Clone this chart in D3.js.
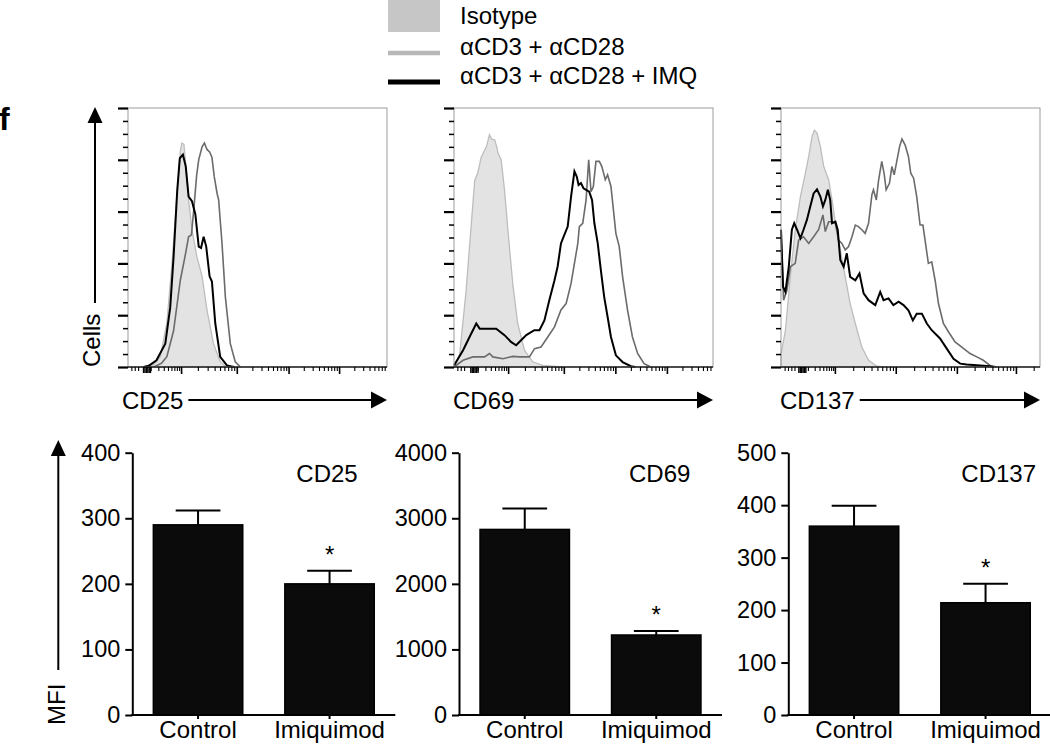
<!DOCTYPE html>
<html>
<head>
<meta charset="utf-8">
<script src="https://cdn.jsdelivr.net/npm/d3@7"></script>
<style>
  body { margin: 0; background: #fff; }
  text { font-family: "Liberation Sans", Arial, sans-serif; fill: #000; }
</style>
</head>
<body>
<div id="chart"></div>
<script>
// DATA
// ------------------------------------------------------------------

var legendLabels = ["Isotype", "αCD3 + αCD28", "αCD3 + αCD28 + IMQ"];
var histMarkers = ["CD25", "CD69", "CD137"];

// histogram traces: [position along the fluorescence axis (% of width), cells (% of max)]
var cd25Iso = [[6,0],[10,1],[12.5,4],[15,17],[17,40],[19,68],[20.3,84],[20.8,86.5],[21.6,86],[22.3,78],[23.4,64.5],[24.7,53],[26.6,42.6],[28.6,35],[30.5,22],[33,9],[35.6,2],[38,0]];
var cd25Stim = [[10,0],[13,1.5],[15,4],[17.6,14],[20.2,33.5],[22,42.6],[23.4,50.3],[24.5,51],[25.5,62],[26.5,74],[27.3,80],[28.6,85],[29.5,86.5],[30.5,84],[31.5,83],[32.4,81],[33.3,73.5],[34.4,67],[35,64.5],[36.3,47.7],[37.6,27],[39.5,9],[41.4,2],[43.4,0]];
var cd25Imq = [[6,0],[8,0.5],[11,2.6],[14.4,9],[16.3,23],[17.6,42.6],[19,68],[20,80.6],[21.2,82],[22.3,77.4],[23.4,65.8],[24.7,64],[26,59],[27.3,46.5],[28.2,46],[29.2,50.3],[30.2,46.5],[31.5,35],[32.4,33],[33.7,16.8],[35.6,3.9],[38.2,0.6],[41,0]];

var cd69Iso = [[0,0],[2.2,5],[4.7,29.7],[6.7,55.5],[8,72],[9.2,75],[10.5,81],[12.5,85],[13.7,89.7],[14.5,88],[15.7,87.7],[16.5,85],[17,82.6],[18.2,80],[19.5,68.4],[20.8,53],[22.7,32],[24.6,16.8],[27.2,6.5],[30.4,2],[34.3,0.6],[42,0]];
var cd69Stim = [[0,0],[3.5,2.6],[7.3,3.9],[11.8,3.9],[13.7,5.2],[15,3.9],[18.9,3.2],[22.7,4.1],[25.3,3.9],[29.1,3.9],[31.1,7.1],[33.6,7.7],[36.2,11.6],[38.8,15.5],[41.3,22],[43.3,24.5],[45.2,32.3],[46.5,40],[47.8,47.7],[48.4,54.2],[49.7,55.5],[51,64.5],[52,80],[52.9,67.7],[53.8,69.7],[54.8,79.4],[56.1,79.4],[57.1,77.4],[58.4,72.3],[59.3,74.2],[60.6,69.7],[62.5,51.6],[63.8,46.5],[65.1,34.8],[67,22],[68.9,11.6],[70.9,5.2],[73.4,1.3],[76,0]];
var cd69Imq = [[0,0.6],[3.5,6.5],[6,11.6],[8.6,16.8],[9.9,14.8],[12.5,14.8],[16.3,14.8],[19.5,12.3],[22,9.7],[24,8.4],[25.9,10.3],[27.9,12.3],[31,14.2],[33,14.2],[34.9,18],[36.8,25.8],[38.8,33.5],[40,38.7],[41.3,47.7],[42.6,51],[43.9,54.2],[45.2,65.8],[46.5,75.5],[47.4,73.5],[48.1,70.3],[49,71],[50,69],[51,68.4],[52.2,67.7],[53.3,64.5],[54.2,55.5],[55.5,47.7],[56.7,37.4],[58,27],[59.3,19.4],[60.6,11.6],[62.5,4.5],[65.1,1.9],[68.3,0.3],[70,0]];

var cd137Iso = [[0,5],[1.7,14],[3.6,34.8],[5.5,53],[7.5,65.8],[9.4,74.8],[10.7,81.3],[12,89],[12.9,91.4],[13.9,90.3],[15.2,85.2],[16.5,77.4],[18.4,72.3],[19.7,64.5],[21,55.5],[22.9,45.2],[24.8,34.8],[26.7,24.5],[28.7,16.8],[31.2,7.7],[33.8,2.6],[37,0.3],[40,0]];
var cd137Stim = [[0,53],[1,25.8],[2.3,29.7],[3.6,38.7],[5.5,40],[6.8,49],[8.7,50.3],[10.7,47.7],[12.6,50.3],[14.5,53],[16.2,58.7],[17.1,52.3],[18.4,56.1],[19.7,56.1],[21,55.5],[22.2,49],[23.5,47.7],[24.8,45.2],[26.1,46.5],[27.4,50.3],[28.7,54.8],[29.9,54.2],[31.2,53],[32.5,51.6],[33.8,55.5],[35.1,66.5],[35.7,68.4],[36.8,64.5],[37.7,72.3],[38.9,79.4],[39.8,74.8],[40.6,68.4],[41.9,71],[42.8,77.4],[43.7,74.2],[44.7,79.4],[45.8,85.2],[46.7,88],[47.9,85.8],[49.2,81.3],[50.1,74.8],[51.2,72.9],[52.4,65.8],[53.7,54.8],[54.8,54.8],[55.8,47.7],[56.9,40],[58.2,40.6],[59.5,33.5],[60.8,24.5],[62.7,16.8],[64.7,13.5],[67.2,9.7],[69.8,7.7],[73,5.2],[75.6,3.9],[78.1,2.6],[80.7,0.6],[83.3,0]];
var cd137Imq = [[0,53],[0.8,31],[1.7,29],[3,38.7],[4.2,53],[5.1,55.5],[6.2,53],[7.5,49.7],[8.7,53],[10,56.8],[11.3,62],[12.6,67],[13.9,68.6],[15.2,65.8],[16.2,62],[17.1,64.5],[18.1,68.4],[19,64.5],[19.7,55.5],[21,56.1],[21.9,53],[22.9,41.3],[24.2,38.7],[25.4,43.9],[26.7,34.8],[28.7,33.5],[30.3,36.1],[31.9,28.4],[33.8,25.8],[36.4,23.9],[38.3,29],[39.6,25.8],[41.5,26.5],[43.4,23.9],[45.4,25.2],[47.3,23.9],[49.2,21.9],[50.9,18],[52.4,20.6],[54.4,20.6],[56.3,16.8],[58.2,14.2],[61.4,11],[64,7.1],[66.6,3.2],[69.2,1.3],[71.7,1],[76.9,0.6],[80.7,0.3],[82,0]];

var histIso = [cd25Iso, cd69Iso, cd137Iso],
    histStim = [cd25Stim, cd69Stim, cd137Stim],
    histImq = [cd25Imq, cd69Imq, cd137Imq];

// axis ticks of the flow plots
var histMajorTicks = [[20.5, 42, 62, 81.5], [20.9, 42.4, 62.3, 82.2], [20.8, 44.3, 67.9, 90.7]];
var histLowDecade = [16.8, 16.8, 14.9];
var histZeroTicks = [[5.8, 6.35, 6.9, 7.45, 8.0, 8.5], [6.3, 6.85, 7.4, 7.95, 8.5, 9.1], [6.7, 7.25, 7.8, 8.35, 8.9, 9.4]];
var histNegTicks = [[1.3, 2.6, 3.9], [1.3, 2.6, 3.9], [1.4, 2.7, 4.0, 5.2]];
var histCountTicks = [0, 20, 40, 60, 80, 100];

// MFI bar charts
var barGroups = ["Control", "Imiquimod"];
var cd25Mfi = [290, 200], cd25Sem = [22, 20];
var cd69Mfi = [2830, 1220], cd69Sem = [320, 60];
var cd137Mfi = [360, 214], cd137Sem = [39, 36];
var mfiValues = [cd25Mfi, cd69Mfi, cd137Mfi],
    mfiSem = [cd25Sem, cd69Sem, cd137Sem];
var mfiTicks = [[0, 100, 200, 300, 400], [0, 1000, 2000, 3000, 4000], [0, 100, 200, 300, 400, 500]];
var significant = [false, true];

// CANVAS
// ------------------------------------------------------------------

var width = 1050,
    height = 744;

var svg = d3.select("#chart")
    .append("svg")
    .attr("width", width)
    .attr("height", height);

function arrowHead(tipX, tipY, dir, len, half) {
  // dir: "up" or "right"
  if (dir == "up")
    return "M" + tipX + "," + tipY + "L" + (tipX - half) + "," + (tipY + len) +
           "L" + (tipX + half) + "," + (tipY + len) + "Z";
  return "M" + tipX + "," + tipY + "L" + (tipX - len) + "," + (tipY - half) +
         "L" + (tipX - len) + "," + (tipY + half) + "Z";
}

// LEGEND
// ------------------------------------------------------------------

var legend = svg.append("g");
legend.append("rect")
    .attr("x", 388).attr("y", 0)
    .attr("width", 52).attr("height", 32)
    .attr("fill", "#c6c6c6");
legend.append("line")
    .attr("x1", 388).attr("x2", 440).attr("y1", 53).attr("y2", 53)
    .attr("stroke", "#b8b8b8").attr("stroke-width", 4.5);
legend.append("line")
    .attr("x1", 388).attr("x2", 440).attr("y1", 82).attr("y2", 82)
    .attr("stroke", "#000").attr("stroke-width", 5);
legend.selectAll("text.leg")
    .data(legendLabels)
    .enter().append("text")
    .attr("class", "leg")
    .attr("x", 460)
    .attr("y", function(d, i) { return [23.5, 54.5, 83.5][i]; })
    .style("font-size", "24px")
    .text(function(d) { return d; });

svg.append("text")
    .attr("x", -1).attr("y", 130)
    .style("font-size", "32px")
    .style("font-weight", "bold")
    .text("f");

// HISTOGRAMS
// ------------------------------------------------------------------

var histLeft = [128, 454, 781],
    histTop = 108,
    histSize = 259;

function minorTicks(i) {
  var majors = histMajorTicks[i],
      edges = [majors[0] - histLowDecade[i]].concat(majors),
      last = majors[majors.length - 1];
  edges.push(last + (last - majors[majors.length - 2]));
  var out = [];
  for (var e = 0; e < edges.length - 1; e++) {
    for (var k = 2; k <= 9; k++) {
      var v = edges[e] + (edges[e + 1] - edges[e]) * Math.log10(k);
      if (v < 100) out.push(v);
    }
  }
  return out.concat(histNegTicks[i]);
}

function tickAxis(g, axis, strokeWidth) {
  g.call(axis);
  g.select(".domain").remove();
  g.selectAll(".tick line").attr("stroke", "#000").attr("stroke-width", strokeWidth);
}

function drawHist(i) {
  var left = histLeft[i];
  var x = d3.scaleLinear().domain([0, 100]).range([left, left + histSize]),
      y = d3.scaleLinear().domain([0, 100]).range([histTop + histSize, histTop]);
  var g = svg.append("g");

  var area = d3.area()
      .x(function(d) { return x(d[0]); })
      .y0(y(0))
      .y1(function(d) { return y(d[1]); });
  var line = d3.line()
      .x(function(d) { return x(d[0]); })
      .y(function(d) { return y(d[1]); });

  g.append("path").datum(histIso[i])
      .attr("d", area)
      .attr("fill", "#e3e3e3")
      .attr("stroke", "#bdbdbd")
      .attr("stroke-width", 1.3);
  g.append("path").datum(histStim[i])
      .attr("d", line)
      .attr("fill", "none")
      .attr("stroke", "#6b6b6b")
      .attr("stroke-width", 1.6);
  g.append("path").datum(histImq[i])
      .attr("d", line)
      .attr("fill", "none")
      .attr("stroke", "#000")
      .attr("stroke-width", 2);

  // frame
  g.append("rect")
      .attr("x", left).attr("y", histTop)
      .attr("width", histSize).attr("height", histSize)
      .attr("fill", "none")
      .attr("stroke", "#9c9c9c")
      .attr("stroke-width", 1);
  g.append("line")
      .attr("x1", left).attr("x2", left + histSize)
      .attr("y1", y(0)).attr("y2", y(0))
      .attr("stroke", "#222").attr("stroke-width", 1.5);

  // count ticks
  tickAxis(g.append("g").attr("transform", "translate(" + left + ",0)"),
      d3.axisLeft(y).tickValues(histCountTicks).tickSize(10).tickFormat(""), 2.2);
  tickAxis(g.append("g").attr("transform", "translate(" + left + ",0)"),
      d3.axisLeft(y).tickValues(d3.range(5, 100, 5).filter(function(v) { return v % 20; }))
        .tickSize(5).tickFormat(""), 1.5);

  // fluorescence ticks
  var bottom = "translate(0," + y(0) + ")";
  tickAxis(g.append("g").attr("transform", bottom),
      d3.axisBottom(x).tickValues(histMajorTicks[i]).tickSize(7).tickFormat(""), 1.6);
  tickAxis(g.append("g").attr("transform", bottom),
      d3.axisBottom(x).tickValues(minorTicks(i)).tickSize(4).tickFormat(""), 1.1);
  tickAxis(g.append("g").attr("transform", bottom),
      d3.axisBottom(x).tickValues(histZeroTicks[i]).tickSize(6).tickFormat(""), 1.4);

  // marker label with arrow
  var label = g.append("text")
      .attr("x", left - 6 + (i == 1 ? 5 : 0) + (i == 2 ? 5 : 0))
      .attr("y", 408.5)
      .style("font-size", "24px")
      .text(histMarkers[i]);
  var labelEnd = +label.attr("x") + label.node().getComputedTextLength();
  g.append("line")
      .attr("x1", labelEnd + 5).attr("x2", left + histSize - 10)
      .attr("y1", 400).attr("y2", 400)
      .attr("stroke", "#000").attr("stroke-width", 2);
  g.append("path")
      .attr("d", arrowHead(left + histSize, 400, "right", 16, 8.5))
      .attr("fill", "#000");
}

histMarkers.forEach(function(d, i) { drawHist(i); });

// Cells axis title
svg.append("line")
    .attr("x1", 95).attr("x2", 95).attr("y1", 303).attr("y2", 118)
    .attr("stroke", "#000").attr("stroke-width", 2);
svg.append("path").attr("d", arrowHead(95, 107, "up", 16, 7.5)).attr("fill", "#000");
svg.append("text")
    .attr("transform", "translate(100,367) rotate(-90)")
    .style("font-size", "24px")
    .text("Cells");

// BAR CHARTS
// ------------------------------------------------------------------

var barLeft = [132.3, 459, 788.3],
    barTop = 452.7,
    barBottom = 715,
    barWidth = 263,
    titleOffset = [164, 170, 173];

function drawBars(i) {
  var x0 = barLeft[i];
  var x = d3.scaleBand()
      .domain(barGroups)
      .range([x0, x0 + barWidth])
      .paddingInner(0.32)
      .paddingOuter(0.16);
  var y = d3.scaleLinear()
      .domain([0, mfiTicks[i][mfiTicks[i].length - 1]])
      .range([barBottom, barTop]);
  var g = svg.append("g");
  var vals = mfiValues[i], sem = mfiSem[i];

  // error bars (upper only)
  g.selectAll("line.err")
      .data(barGroups)
      .enter().append("line")
      .attr("x1", function(d) { return x(d) + x.bandwidth() / 2; })
      .attr("x2", function(d) { return x(d) + x.bandwidth() / 2; })
      .attr("y1", function(d, j) { return y(vals[j]); })
      .attr("y2", function(d, j) { return y(vals[j] + sem[j]); })
      .attr("stroke", "#000").attr("stroke-width", 2);
  g.selectAll("line.cap")
      .data(barGroups)
      .enter().append("line")
      .attr("x1", function(d) { return x(d) + x.bandwidth() / 4; })
      .attr("x2", function(d) { return x(d) + x.bandwidth() * 3 / 4; })
      .attr("y1", function(d, j) { return y(vals[j] + sem[j]); })
      .attr("y2", function(d, j) { return y(vals[j] + sem[j]); })
      .attr("stroke", "#000").attr("stroke-width", 2);

  g.selectAll("rect.bar")
      .data(barGroups)
      .enter().append("rect")
      .attr("x", function(d) { return x(d); })
      .attr("y", function(d, j) { return y(vals[j]); })
      .attr("width", x.bandwidth())
      .attr("height", function(d, j) { return barBottom - y(vals[j]); })
      .attr("fill", "#0b0b0b")
      .attr("stroke", "#000")
      .attr("stroke-width", 1.5);

  g.selectAll("text.star")
      .data(barGroups.filter(function(d, j) { return significant[j]; }))
      .enter().append("text")
      .attr("x", function(d) { return x(d) + x.bandwidth() / 2; })
      .attr("y", function(d) {
        var j = barGroups.indexOf(d);
        return y(vals[j] + sem[j]) - 8;
      })
      .attr("text-anchor", "middle")
      .style("font-size", "24px")
      .text("*");

  // axes
  var ya = g.append("g")
      .attr("transform", "translate(" + x0 + ",0)")
      .call(d3.axisLeft(y).tickValues(mfiTicks[i]).tickFormat(d3.format("d"))
        .tickSize(7).tickPadding(5).tickSizeOuter(0));
  var xa = g.append("g")
      .attr("transform", "translate(0," + barBottom + ")")
      .call(d3.axisBottom(x).tickSize(4).tickSizeOuter(0));
  [ya, xa].forEach(function(a) {
    a.select(".domain").attr("stroke", "#000").attr("stroke-width", 2);
    a.selectAll(".tick line").attr("stroke", "#000").attr("stroke-width", 2);
    a.selectAll(".tick text")
        .style("font-family", "'Liberation Sans', Arial, sans-serif")
        .attr("fill", "#000");
  });
  ya.selectAll(".tick text").style("font-size", "23.5px");
  xa.selectAll(".tick text")
      .style("font-size", "24px")
      .attr("y", 23).attr("dy", 0);
  // extend the baseline to the axis corner
  xa.select(".domain").attr("d", "M" + (x0 - 1) + ",0H" + (x0 + barWidth));

  g.append("text")
      .attr("x", x0 + titleOffset[i])
      .attr("y", 481.5)
      .style("font-size", "24px")
      .text(histMarkers[i]);
}

histMarkers.forEach(function(d, i) { drawBars(i); });

// MFI axis title
svg.append("line")
    .attr("x1", 58.3).attr("x2", 58.3).attr("y1", 670).attr("y2", 452)
    .attr("stroke", "#000").attr("stroke-width", 2);
svg.append("path").attr("d", arrowHead(58.3, 440, "up", 16, 7.5)).attr("fill", "#000");
svg.append("text")
    .attr("transform", "translate(65,725) rotate(-90)")
    .style("font-size", "24px")
    .text("MFI");
</script>
</body>
</html>
